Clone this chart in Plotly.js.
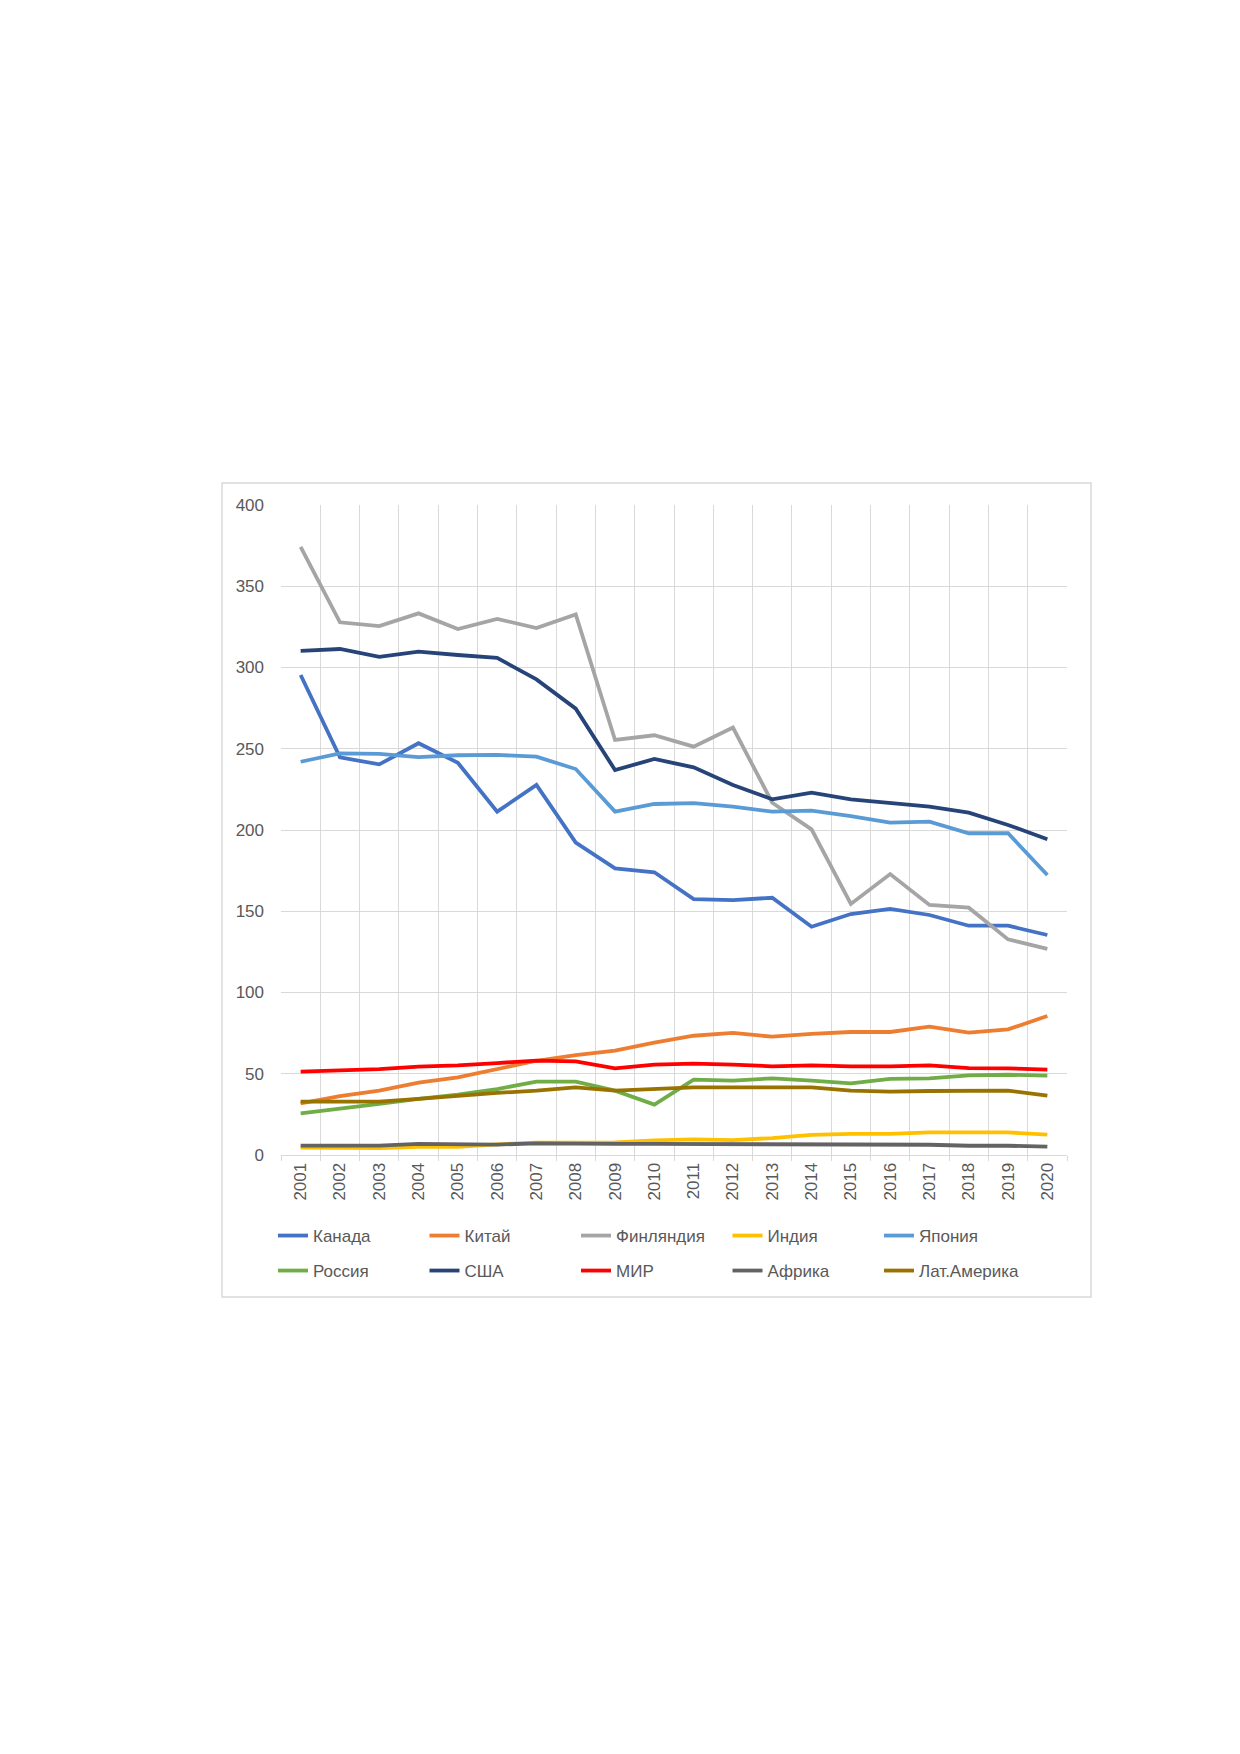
<!DOCTYPE html>
<html>
<head>
<meta charset="utf-8">
<script src="https://cdn.plot.ly/plotly-3.0.1.min.js"></script>
<style>html,body{margin:0;padding:0;background:#fff;}#chart{width:1240px;height:1754px;}</style>
</head>
<body>
<div id="chart"></div>
<script>
const years = ["2001","2002","2003","2004","2005","2006","2007","2008","2009","2010","2011","2012","2013","2014","2015","2016","2017","2018","2019","2020"];
const canada  = [295.4,244.7,240.4,253.4,241.4,211.3,227.7,192.2,176.4,174.0,157.5,156.9,158.3,140.5,148.3,151.4,147.7,141.1,141.1,135.4];
const china   = [31.8,36.3,39.6,44.5,47.8,52.9,58.0,61.5,64.2,69.1,73.4,75.1,72.8,74.5,75.7,75.7,79.0,75.3,77.3,85.5];
const finland = [374.3,327.8,325.5,333.3,323.7,329.9,324.3,332.7,255.4,258.3,251.3,263.0,216.8,200.4,154.5,172.9,153.9,152.2,132.7,126.8];
const india   = [4.6,4.6,4.2,5.0,5.0,6.5,7.6,7.6,7.8,9.0,9.6,9.2,10.4,12.4,13.0,13.0,13.9,13.9,13.9,12.5];
const japan   = [242.0,247.2,246.8,244.9,246.0,246.2,245.1,237.5,211.3,216.0,216.6,214.4,211.3,211.9,208.6,204.5,205.1,198.0,198.0,172.3];
const russia  = [25.6,28.3,31.4,34.5,37.1,40.6,45.1,45.1,39.6,31.0,46.4,45.8,47.2,45.8,44.1,46.8,47.1,49.0,49.4,48.8];
const usa     = [310.2,311.4,306.5,309.8,307.7,305.9,292.7,274.7,236.9,243.7,238.6,227.7,218.9,223.0,218.9,216.8,214.4,210.7,203.1,194.3];
const world   = [51.3,51.9,52.9,54.4,55.2,56.6,58.1,57.6,53.3,55.6,56.2,55.6,54.6,55.2,54.6,54.6,55.2,53.5,53.3,52.5];
const africa  = [5.8,5.8,5.8,6.8,6.4,6.4,7.2,6.8,6.8,6.8,6.8,6.8,6.8,6.8,6.8,6.5,6.3,5.7,5.7,5.1];
const latam   = [32.8,32.8,32.8,34.5,36.5,38.2,39.6,41.6,39.6,40.6,41.6,41.6,41.6,41.6,39.6,39.0,39.4,39.4,39.6,36.5];

const seriesNames = ["Канада","Китай","Финляндия","Индия","Япония","Россия","США","МИР","Африка","Лат.Америка"];
const seriesData = [canada,china,finland,india,japan,russia,usa,world,africa,latam];
const seriesColors = ["#4472C4","#ED7D31","#A5A5A5","#FFC000","#5B9BD5","#70AD47","#264478","#FF0000","#636363","#997300"];

const traces = seriesNames.map((n,i)=>({
  type:'scatter', mode:'lines', name:n, x:years, y:seriesData[i],
  line:{color:seriesColors[i], width:3.8},
  legend: i<5 ? 'legend' : 'legend2',
  hoverinfo:'skip'
}));

// pixel geometry
const W=1240,H=1754, PL=281, PR=1067, PT=505, PB=1155;
const pw=PR-PL, ph=PB-PT;
const px = x => (x-PL)/pw;
const py = y => (PB-y)/ph;
const font = {family:'"Liberation Sans", Arial, sans-serif', size:17, color:'#595959'};
const legBase = {orientation:'h', xanchor:'left', yanchor:'middle', x:px(273), entrywidth:106.5, entrywidthmode:'pixels', font:font, bgcolor:'rgba(0,0,0,0)', itemclick:false};

const layout = {
  width:W, height:H,
  margin:{l:PL, r:W-PR, t:PT, b:H-PB, pad:0},
  paper_bgcolor:'#fff', plot_bgcolor:'#fff',
  font:font,
  showlegend:true,
  xaxis:{type:'category', range:[-0.5,19.5], tickson:'boundaries', showgrid:true, gridcolor:'#d9d9d9', gridwidth:1,
         showline:true, linecolor:'#d9d9d9', linewidth:1, ticks:'outside', ticklen:5, tickcolor:'#d9d9d9',
         tickangle:-90, tickfont:font, ticklabelstandoff:0, fixedrange:true, mirror:false},
  yaxis:{range:[0,400], dtick:50, showgrid:true, gridcolor:'#d9d9d9', gridwidth:1, zeroline:false,
         showline:false, ticks:'', tickfont:font, ticklabelstandoff:16, fixedrange:true},
  legend:Object.assign({}, legBase, {y:py(1236)}),
  legend2:Object.assign({}, legBase, {y:py(1271)}),
  shapes:[{type:'rect', xref:'paper', yref:'paper', x0:px(222), x1:px(1091), y0:py(1297), y1:py(483),
           line:{color:'#d9d9d9', width:1.5}, fillcolor:'rgba(0,0,0,0)', layer:'below'}]
};
Plotly.newPlot('chart', traces, layout, {staticPlot:true, displayModeBar:false});
</script>
</body>
</html>
